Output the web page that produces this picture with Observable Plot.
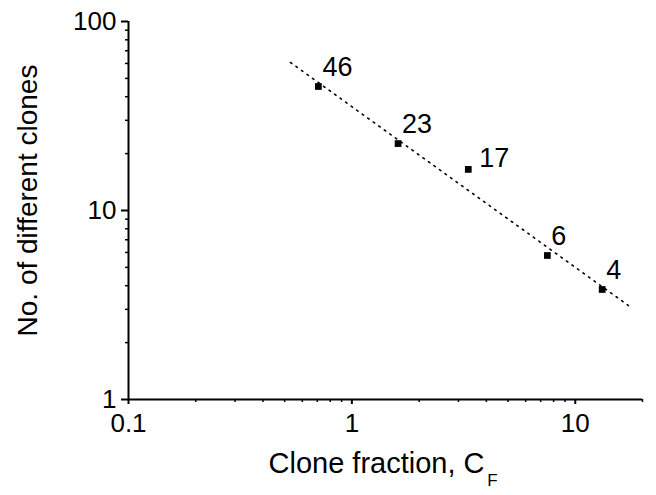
<!DOCTYPE html>
<html>
<head>
<meta charset="utf-8">
<script src="https://cdn.jsdelivr.net/npm/d3@7"></script>
<script src="https://cdn.jsdelivr.net/npm/@observablehq/plot@0.6"></script>
<style>
  html, body { margin: 0; padding: 0; background: #fff; }
  #chart svg { display: block; }
</style>
</head>
<body>
<div id="chart"></div>
<script>
// Data (log–log plot)
const cloneFraction = [0.708, 1.61, 3.32, 7.50, 13.2];
const cloneCount    = [45.3, 22.6, 16.5, 5.78, 3.82];
const pointLabels   = ["46", "23", "17", "6", "4"];

// dotted fitted line endpoints
const fitFraction = [0.531, 17.3];
const fitCount    = [60.7, 3.14];

// tick values
const xMajorTicks = [0.1, 1, 10];
const xMinorTicks = [0.2, 0.3, 0.4, 0.5, 0.6, 0.7, 0.8, 0.9, 2, 3, 4, 5, 6, 7, 8, 9, 20];
const yMajorTicks = [1, 10, 100];
const yMinorTicks = [2, 3, 4, 5, 6, 7, 8, 9, 20, 30, 40, 50, 60, 70, 80, 90];

const xTitle = "Clone fraction, C";
const xTitleSub = "F";
const yTitle = "No. of different clones";

const points = cloneFraction.map((x, i) => ({x, y: cloneCount[i], label: pointLabels[i]}));
const fit = fitFraction.map((x, i) => ({x, y: fitCount[i]}));

const font = "'Liberation Sans', Arial, Helvetica, sans-serif";

const chart = Plot.plot({
  width: 656,
  height: 495,
  marginLeft: 128,
  marginRight: 14,
  marginTop: 21,
  marginBottom: 96,
  style: {fontFamily: font, fontSize: "26px", color: "#000", background: "#fff"},
  x: {type: "log", domain: [0.1, 20]},
  y: {type: "log", domain: [1, 100]},
  marks: [
    // axis lines
    Plot.ruleX([0.1], {stroke: "#000", strokeWidth: 2}),
    Plot.ruleY([1], {stroke: "#000", strokeWidth: 2}),
    // y axis ticks
    Plot.axisY({ticks: yMajorTicks, tickSize: 7, tickPadding: 5, strokeWidth: 2,
      fontSize: 26, tickFormat: d => String(d), label: null}),
    Plot.axisY({ticks: yMinorTicks, tickSize: 3, strokeWidth: 1.5, tickFormat: () => "", label: null}),
    // x axis ticks
    Plot.axisX({ticks: xMajorTicks, tickSize: 5, tickPadding: 9, strokeWidth: 2,
      fontSize: 26, tickFormat: d => String(d), label: null}),
    Plot.axisX({ticks: xMinorTicks, tickSize: 3, strokeWidth: 1.5, tickFormat: () => "", label: null}),
    // dotted fit line
    Plot.line(fit, {x: "x", y: "y", stroke: "#000", strokeWidth: 1.6, strokeDasharray: "1.6,5.2", strokeLinecap: "round"}),
    // data points
    Plot.dot(points, {x: "x", y: "y", symbol: "square", r: 3.8, fill: "#000", stroke: "none"}),
    // point labels
    Plot.text(points.filter(d => d.label !== "17"), {x: "x", y: "y", text: "label",
      textAnchor: "start", dx: 4, dy: -19, fontSize: 27, fill: "#000"}),
    Plot.text(points.filter(d => d.label === "17"), {x: "x", y: "y", text: "label",
      textAnchor: "start", dx: 11, dy: -11, fontSize: 27, fill: "#000"}),
    // axis titles
    Plot.text([xTitle], {frameAnchor: "bottom", text: d => d, textAnchor: "middle", dy: 73, dx: -9,
      fontSize: 29, fill: "#000"}),
    Plot.text([xTitleSub], {frameAnchor: "bottom", text: d => d, textAnchor: "middle", dy: 86, dx: 107,
      fontSize: 17, fill: "#000"}),
    Plot.text([yTitle], {frameAnchor: "left", text: d => d, textAnchor: "middle", rotate: -90, dx: -100, dy: -10,
      fontSize: 28, fill: "#000"})
  ]
});

document.getElementById("chart").appendChild(chart);
</script>
</body>
</html>
